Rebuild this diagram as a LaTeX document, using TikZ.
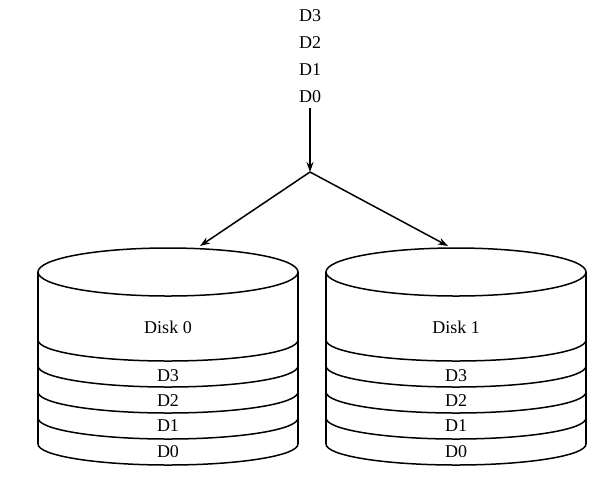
\documentclass[tikz,border=0pt]{standalone}
\usepackage{fontspec}
\setmainfont{Liberation Serif}
\usetikzlibrary{arrows.meta}
\begin{document}
\begin{tikzpicture}[x=1pt,y=-1pt,line width=1.5pt,
  lbl/.style={inner sep=0pt,font=\fontsize{18}{21}\selectfont},
  arr/.style={-{Stealth[length=10pt,width=7pt]}}]
\useasboundingbox[fill=white] (0,0) rectangle (612,480);
\foreach \cx/\n in {168/0,456/1}{
  \begin{scope}[xshift=\cx]
  \draw (0,272) ellipse [x radius=130,y radius=24];
  \draw (-130,272) -- (-130,444) (130,272) -- (130,444);
  \foreach \yy in {340,366,392,418,444}
    \draw (-130,\yy) arc[start angle=180,end angle=360,x radius=130,y radius=-21];
  \end{scope}}
\node[lbl] (k0) at (168,327) {Disk 0};
\node[lbl] (k1) at (456,327) {Disk 1};
\foreach \cx/\s in {168/a,456/b}{
  \node[lbl] (\s3) at (\cx,376) {D3};
  \node[lbl] (\s2) at (\cx,401) {D2};
  \node[lbl] (\s1) at (\cx,426) {D1};
  \node[lbl] (\s0) at (\cx,452) {D0};}
\node[lbl] (t3) at (310,16) {D3};
\node[lbl] (t2) at (310,43) {D2};
\node[lbl] (t1) at (310,70) {D1};
\node[lbl] (t0) at (310,97) {D0};
\coordinate (br) at (310,172);
\coordinate (l) at (200,246);
\coordinate (r) at (448,246);
\draw[arr] (t0.south)++(0,4) -- (br);
\draw[arr] (br) -- (l);
\draw[arr] (br) -- (r);
\end{tikzpicture}
\end{document}
